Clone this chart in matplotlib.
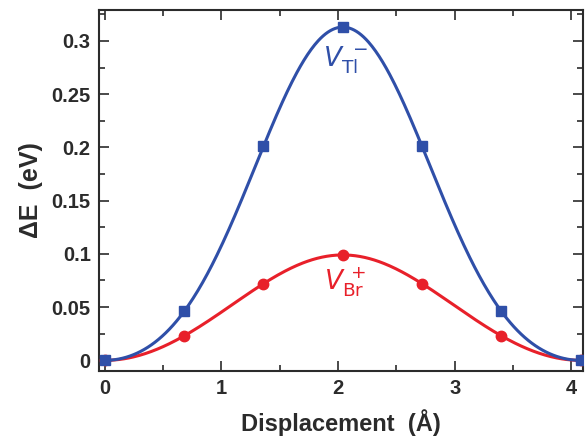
import numpy as np
import matplotlib
matplotlib.use("Agg")
import matplotlib.pyplot as plt
from matplotlib.ticker import MultipleLocator

plt.rcParams['font.family'] = ['Liberation Sans', 'DejaVu Sans']

# displacement of the sampled configurations (Angstrom)
disp = [0.0, 0.68, 1.36, 2.04, 2.72, 3.40, 4.08]
# energy barriers (eV)
e_tl = [0.0, 0.046, 0.201, 0.313, 0.201, 0.046, 0.0]
e_br = [0.0, 0.023, 0.072, 0.099, 0.072, 0.023, 0.0]

blue = '#2f4fa8'
red = '#e8202a'
dark = '#2b2b2b'


def cos_fit(x, y, period, xs):
    # symmetric cosine series fitted through the computed points
    x = np.asarray(x)
    k = 2 * np.pi / period
    A = np.column_stack([np.cos(n * k * x) for n in range(4)])
    c, *_ = np.linalg.lstsq(A, np.asarray(y), rcond=None)
    return sum(c[n] * np.cos(n * k * xs) for n in range(4))


fig = plt.figure(figsize=(5.87, 4.38), dpi=100)
ax = fig.add_axes([0.1687, 0.153, 0.8245, 0.824])

xs = np.linspace(disp[0], disp[-1], 400)
ax.plot(xs, cos_fit(disp, e_br, disp[-1], xs), color=red, lw=2.2, zorder=2)
ax.plot(disp, e_br, 'o', color=red, ms=7.5, zorder=3)
ax.plot(xs, cos_fit(disp, e_tl, disp[-1], xs), color=blue, lw=2.2, zorder=4)
ax.plot(disp, e_tl, 's', color=blue, ms=7, zorder=5)

ax.text(2.06, 0.282, r'$V_{\mathrm{Tl}}^{\,\,-}$', color=blue, fontsize=19,
        ha='center', va='center')
ax.text(2.06, 0.074, r'$V_{\mathrm{Br}}^{\,+}$', color=red, fontsize=19,
        ha='center', va='center')

ax.set_xlim(-0.05, 4.10)
ax.set_ylim(-0.010, 0.329)
ax.xaxis.set_major_locator(MultipleLocator(1))
ax.xaxis.set_minor_locator(MultipleLocator(0.5))
ax.yaxis.set_major_locator(MultipleLocator(0.05))
ax.yaxis.set_minor_locator(MultipleLocator(0.025))
ax.set_yticks([0, 0.05, 0.1, 0.15, 0.2, 0.25, 0.3])
ax.set_yticklabels(['0', '0.05', '0.1', '0.15', '0.2', '0.25', '0.3'])

ax.tick_params(which='both', direction='in', top=True, right=True,
               color=dark, width=1.2, labelcolor=dark)
ax.tick_params(which='major', length=7, labelsize=14.5, pad=6)
ax.tick_params(which='minor', length=4)
for lab in ax.get_xticklabels() + ax.get_yticklabels():
    lab.set_fontweight('bold')
for s in ax.spines.values():
    s.set_color(dark)
    s.set_linewidth(1.5)

ax.set_xlabel(u'Displacement  (\u00c5)', fontsize=17, fontweight='bold',
              color=dark, labelpad=8)
ax.set_ylabel(u'\u0394E  (eV)', fontsize=18, fontweight='bold',
              color=dark, labelpad=6)

fig.savefig('out.png', dpi=100)
